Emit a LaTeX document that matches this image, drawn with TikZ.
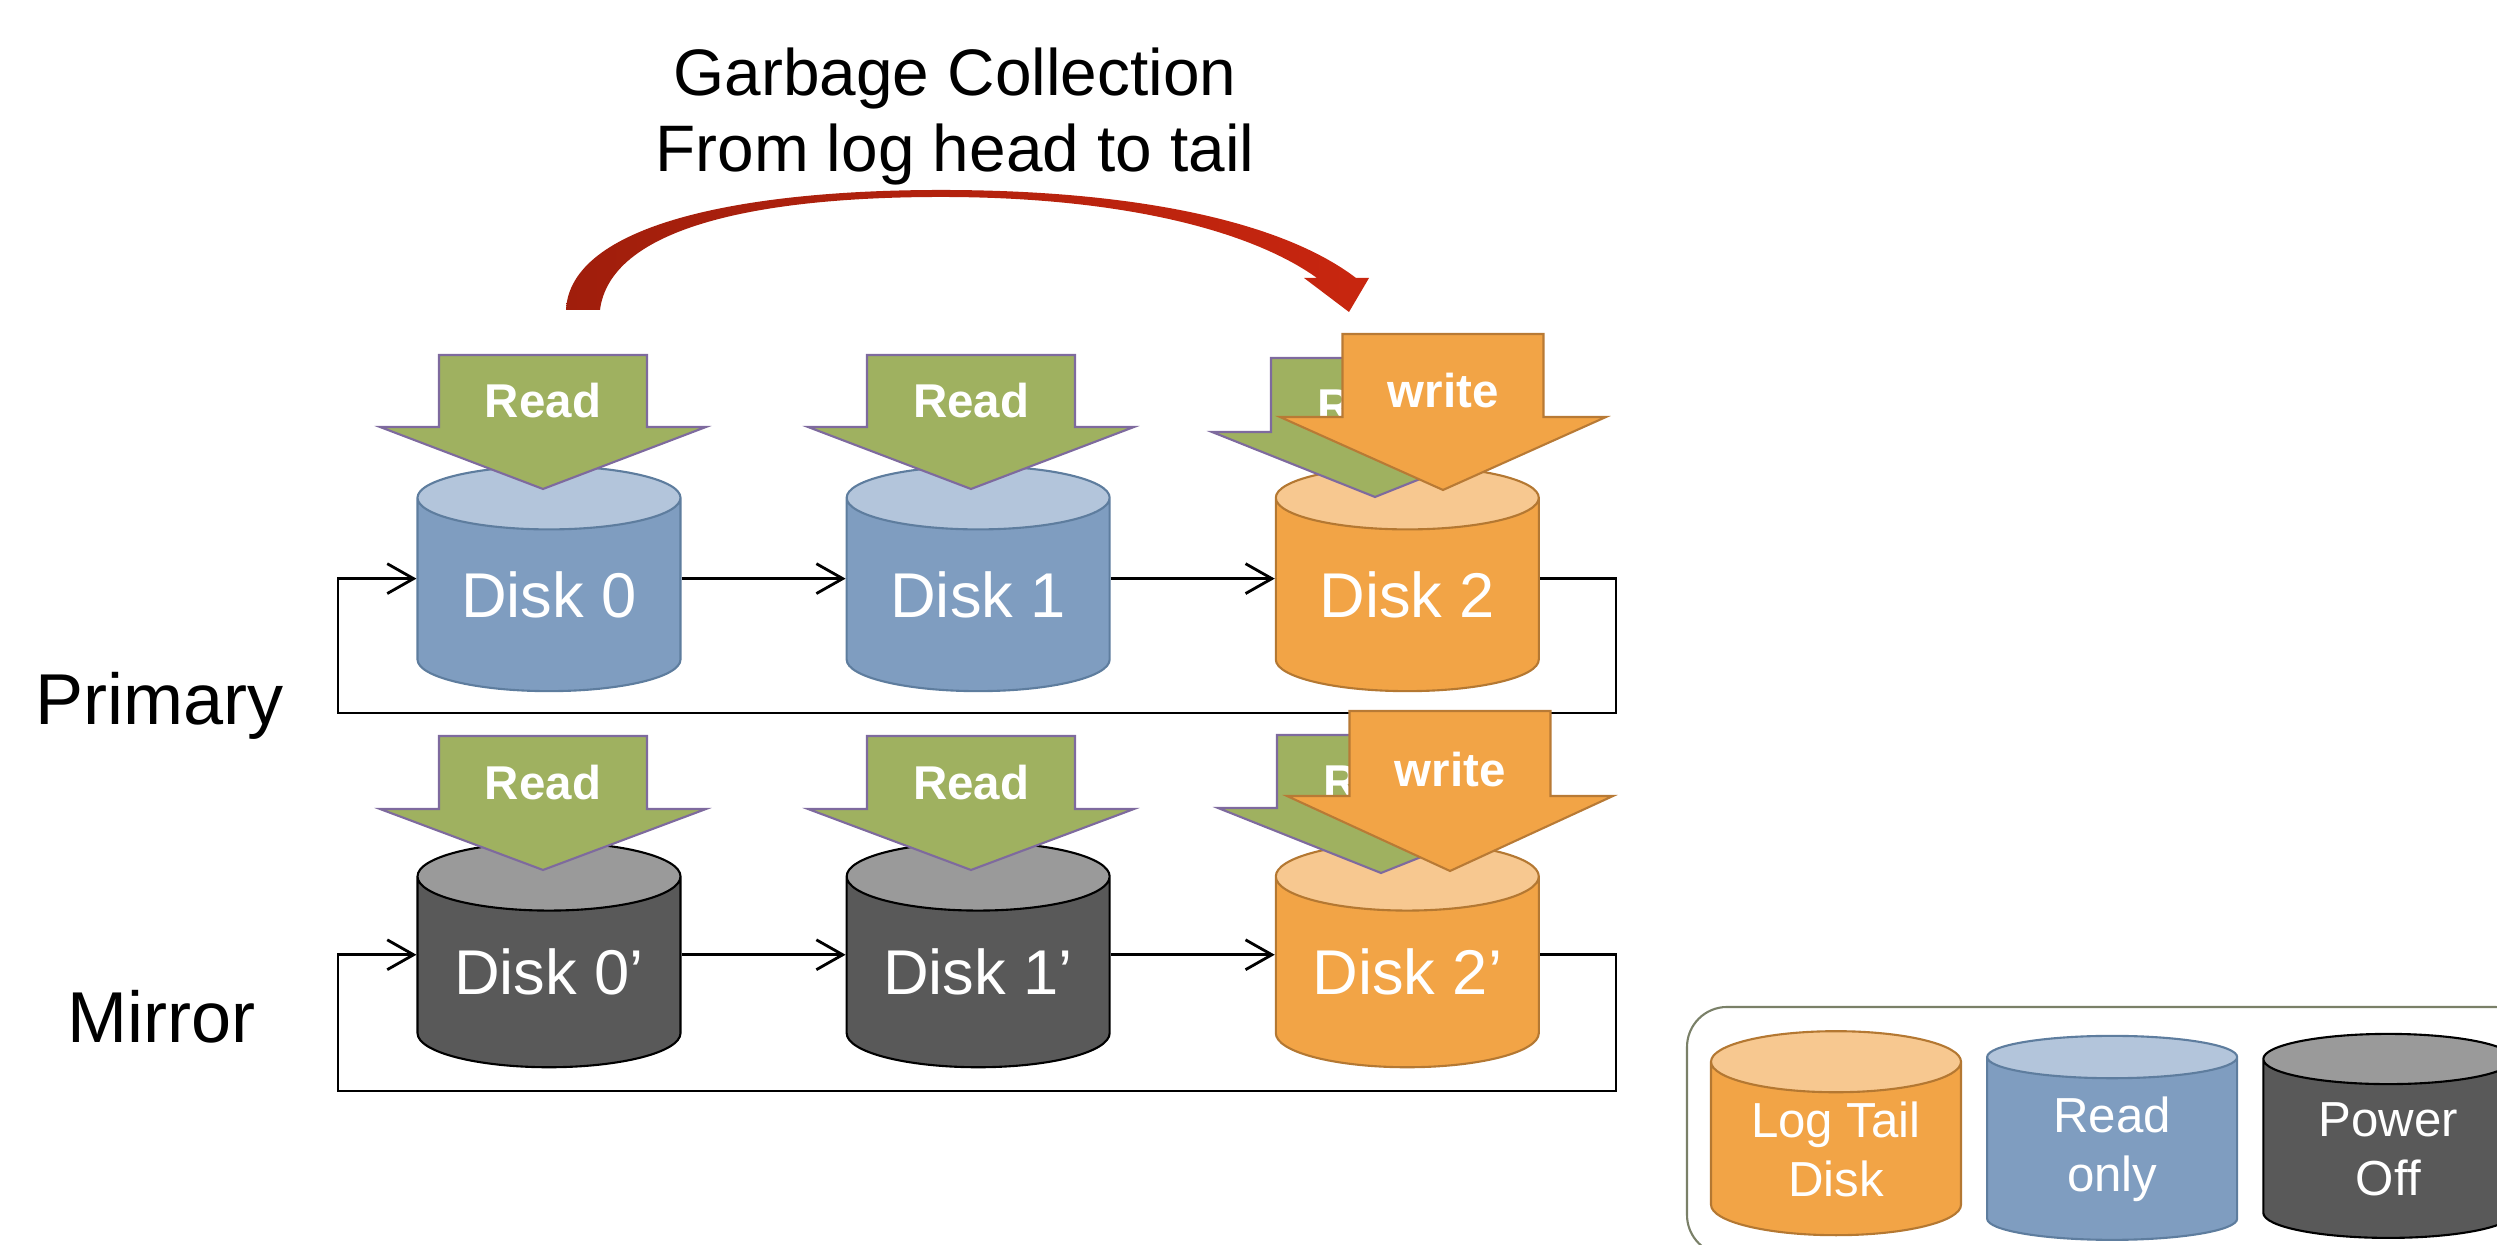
\documentclass[tikz,border=0pt]{standalone}
\usepackage{fontspec}
\setmainfont{Liberation Sans}
\usetikzlibrary{shapes.geometric, arrows.meta, positioning, calc}

\definecolor{tailbody}{HTML}{F2A446}
\definecolor{tailtop}{HTML}{F7C890}
\definecolor{tailline}{HTML}{B47832}
\definecolor{robody}{HTML}{7F9DC0}
\definecolor{rotop}{HTML}{B3C5DB}
\definecolor{roline}{HTML}{5E7D9E}
\definecolor{offbody}{HTML}{595959}
\definecolor{offtop}{HTML}{9A9A9A}
\definecolor{readgreen}{RGB}{159,177,96}
\definecolor{readline}{HTML}{7E6A9E}
\definecolor{writeline}{HTML}{B87A35}
\definecolor{gcdark}{HTML}{A01E0C}
\definecolor{gcred}{HTML}{C8260F}
\definecolor{keyline}{HTML}{7A8068}

% block arrow: style, name, centre x, top, head base, tip, half shaft, text
\newcommand{\blockarrow}[8]{%
  \draw[#1] (#3-#7,#4) -- (#3+#7,#4) -- (#3+#7,#5) -- (#3+1.63,#5)
    -- (#3,#6) -- (#3-1.63,#5) -- (#3-#7,#5) -- cycle;
  \node[arrtext] (#2) at (#3,#5+0.095) {#8};
}

\begin{document}
\begin{tikzpicture}[
  node distance=1.64cm,
  disk/.style={cylinder, shape border rotate=90, aspect=0.36,
               line width=0.6pt, cylinder uses custom fill,
               inner sep=0pt, text=white},
  rowdisk/.style={minimum width=2.63cm, minimum height=2.25cm,
                  font=\fontsize{18}{21}\selectfont},
  keydisk/.style={minimum width=2.50cm, minimum height=2.04cm,
                  font=\fontsize{14}{16.8}\selectfont, align=center},
  tail/.style={draw=tailline, cylinder body fill=tailbody, cylinder end fill=tailtop},
  ronly/.style={draw=roline, cylinder body fill=robody, cylinder end fill=rotop},
  poff/.style={draw=black, cylinder body fill=offbody, cylinder end fill=offtop},
  readarr/.style={fill=readgreen, draw=readline, line width=0.6pt},
  writearr/.style={fill=tailbody, draw=writeline, line width=0.6pt},
  arrtext/.style={text=white, font=\fontsize{13.5}{16}\selectfont\bfseries,
                  anchor=base, inner sep=0pt},
  link/.style={-{Straight Barb[length=7.5pt,width=8.5pt]}, line width=0.8pt, black},
  rowlabel/.style={font=\fontsize{20.5}{24}\selectfont, anchor=base west, inner sep=0pt},
  title/.style={font=\fontsize{18.7}{21.6}\selectfont, align=center, inner sep=0pt}
]
  \useasboundingbox (0,0) rectangle (24.97,12.45);

  % title and the garbage collection sweep
  \node[title, anchor=north] (gc) at (9.55,11.98) {Garbage Collection\\From log head to tail};
  \shade[left color=gcdark, right color=gcred]
    (5.66,9.35) .. controls (5.70,10.20) and (7.40,10.55) .. (9.41,10.55)
    .. controls (11.30,10.55) and (12.80,10.25) .. (13.56,9.67)
    -- (13.69,9.67) -- (13.49,9.33) -- (13.04,9.67) -- (13.17,9.67)
    .. controls (12.50,10.15) and (11.20,10.48) .. (9.41,10.48)
    .. controls (7.50,10.48) and (6.10,10.15) .. (6.00,9.35) -- cycle;

  % disks
  \node[disk, rowdisk, ronly] (d0) at (5.49,6.50) {Disk 0};
  \node[disk, rowdisk, ronly, right=of d0] (d1) {Disk 1};
  \node[disk, rowdisk, tail, right=of d1] (d2) {Disk 2};
  \node[disk, rowdisk, poff, below=1.49cm of d0] (m0) {Disk 0'};
  \node[disk, rowdisk, poff, right=of m0] (m1) {Disk 1'};
  \node[disk, rowdisk, tail, right=of m1] (m2) {Disk 2'};

  \node[rowlabel] (prim) at (0.35,5.20) {Primary};
  \node[rowlabel] (mirr) at (0.67,2.02) {Mirror};

  % log chains
  \coordinate (pr) at (16.16,5.32);
  \coordinate (pl) at (3.38,5.32);
  \coordinate (mr) at (16.16,1.54);
  \coordinate (ml) at (3.38,1.54);
  \draw[link] (d0.shape center -| d0.east) -- (d1.shape center -| d1.west);
  \draw[link] (d1.shape center -| d1.east) -- (d2.shape center -| d2.west);
  \draw[link] (d2.shape center -| d2.east) -| (pr) -- (pl) |- (d0.shape center -| d0.west);
  \draw[link] (m0.shape center -| m0.east) -- (m1.shape center -| m1.west);
  \draw[link] (m1.shape center -| m1.east) -- (m2.shape center -| m2.west);
  \draw[link] (m2.shape center -| m2.east) -| (mr) -- (ml) |- (m0.shape center -| m0.west);

  % reads and writes
  \blockarrow{readarr}{r0}{5.43}{8.90}{8.18}{7.56}{1.04}{Read}
  \blockarrow{readarr}{r1}{9.71}{8.90}{8.18}{7.56}{1.04}{Read}
  \blockarrow{readarr}{r2}{13.75}{8.87}{8.13}{7.48}{1.04}{Read}
  \blockarrow{readarr}{s0}{5.43}{5.09}{4.36}{3.75}{1.04}{Read}
  \blockarrow{readarr}{s1}{9.71}{5.09}{4.36}{3.75}{1.04}{Read}
  \blockarrow{readarr}{s2}{13.81}{5.10}{4.37}{3.72}{1.04}{Read}
  \blockarrow{writearr}{w0}{14.43}{9.11}{8.28}{7.55}{1.005}{write}
  \blockarrow{writearr}{w1}{14.50}{5.34}{4.49}{3.74}{1.005}{write}

  % legend
  \draw[keyline, line width=0.6pt, rounded corners=0.4cm] (16.87,2.38) rectangle (25.35,-0.10);
  \node[disk, keydisk, tail] (k0) at (18.36,0.96) {Log Tail\\Disk};
  \node[disk, keydisk, ronly, right=0.24cm of k0] (k1) {Read\\only};
  \node[disk, keydisk, poff, right=0.24cm of k1] (k2) {Power\\Off};
\end{tikzpicture}
\end{document}
